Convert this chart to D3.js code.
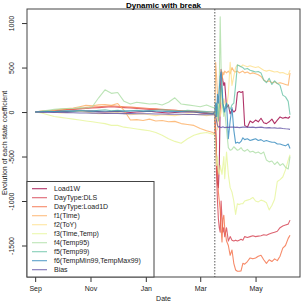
<!DOCTYPE html>
<meta charset="utf-8">
<style>
  body { margin: 0; background: #fff; }
  svg { font-family: 'Liberation Sans', Arial, sans-serif; }
  .tick text { font-size: 7px; fill: #222; }
</style>
<script src="https://d3js.org/d3.v7.min.js"></script>
<div id="chart"></div>
<script>
// sample dates (weekly before the break, denser after)
const dates = [
  "2019-09-01","2019-09-08","2019-09-15","2019-09-22","2019-09-29","2019-10-06","2019-10-13","2019-10-20","2019-10-27",
  "2019-11-03","2019-11-10","2019-11-17","2019-11-24","2019-12-01","2019-12-08","2019-12-15","2019-12-22","2019-12-29",
  "2020-01-05","2020-01-12","2020-01-19","2020-01-26","2020-02-02","2020-02-09","2020-02-16","2020-02-23","2020-03-01",
  "2020-03-08","2020-03-15",
  "2020-03-17","2020-03-18","2020-03-19","2020-03-20","2020-03-21","2020-03-22","2020-03-23","2020-03-24","2020-03-25",
  "2020-03-26","2020-03-27","2020-03-28","2020-03-30","2020-04-01","2020-04-03","2020-04-05","2020-04-07","2020-04-09",
  "2020-04-11","2020-04-13","2020-04-15","2020-04-17","2020-04-19","2020-04-22","2020-04-25","2020-04-28","2020-05-01",
  "2020-05-04","2020-05-07","2020-05-10","2020-05-13","2020-05-16","2020-05-19","2020-05-22","2020-05-25","2020-05-28",
  "2020-05-31","2020-06-03","2020-06-06","2020-06-08"
];
const breakDate = "2020-03-17";

const names = ["Load1W","DayType:DLS","DayType:Load1D","f1(Time)","f2(ToY)","f3(Time,Temp)",
  "f4(Temp95)","f5(Temp99)","f6(TempMin99,TempMax99)","Bias"];
const colors = ["#9E0142","#D53E4F","#F46D43","#FDAE61","#FEE08B","#E6F598","#ABDDA4","#66C2A5","#3288BD","#5E4FA2"];

const load1W = [0,0,5,5,10,5,10,15,10,10,5,0,5,10,0,-5,0,5,10,0,-5,-10,-5,0,5,0,-10,-15,-20,
  0,-200,-500,-800,-850,-600,100,480,420,350,300,330,50,80,-20,30,0,20,220,230,220,230,-150,-170,-100,-120,-90,-110,-70,-120,
  -130,-110,-80,-130,-90,-55,-70,-60,-70,-50];
const dayTypeDLS = [0,5,10,15,20,25,30,35,40,45,50,55,60,55,50,45,40,35,30,30,25,20,20,15,10,10,5,0,0,
  0,-300,-700,-1000,-1200,-1300,-1350,-1000,-1200,-1350,-1300,-1400,-1300,-1450,-1400,-1440,-1450,-1440,-1450,-1440,
  -1430,-1440,-1400,-1410,-1400,-1390,-1400,-1395,-1390,-1380,-1385,-1370,-1360,-1350,-1340,-1300,-1280,-1270,-1260,-1215];
const dayTypeLoad1D = [0,10,15,20,25,30,35,40,50,55,60,65,70,65,60,55,50,45,40,35,30,25,20,15,10,5,0,-10,-20,
  -20,-200,-500,-700,-900,-1000,-1100,-1300,-1460,-1200,-1160,-1300,-1450,-1500,-1610,-1550,-1700,-1775,-1790,-1790,
  -1785,-1700,-1710,-1680,-1640,-1650,-1640,-1620,-1610,-1660,-1700,-1660,-1680,-1650,-1670,-1620,-1530,-1500,-1420,-1385];
const f1 = [0,5,15,20,30,40,45,60,75,70,80,85,75,95,20,-90,-85,-95,-80,-100,-95,-110,-105,-130,-140,-150,-185,-210,-230,
  -250,560,400,200,-100,50,100,200,350,450,420,460,440,460,430,500,460,450,460,440,
  450,460,440,450,430,440,430,420,400,360,340,350,330,340,320,330,320,310,300,440];
const f2 = [0,5,10,0,-10,-5,5,10,0,-10,-20,-15,-10,-5,-20,-30,-25,-20,-30,-40,-30,-35,-40,-30,-20,-25,-30,-40,-30,
  -30,-100,50,-200,0,100,-50,0,100,50,150,100,50,200,560,300,400,500,530,520,
  510,530,520,510,520,510,500,510,490,470,460,470,460,450,455,440,445,430,420,470];
const f3 = [0,-10,-30,-50,-60,-70,-80,-90,-100,-110,-120,-130,-150,-150,-170,-180,-190,-200,-210,-230,-260,-300,-330,-350,-300,-260,-240,-230,-250,
  -250,-400,-600,-500,-650,-700,-600,-650,-700,-600,-500,-750,-450,-700,-850,-900,-1000,-1150,-1030,-1040,
  -1030,-1030,-1000,-990,-980,-960,-1000,-1010,-990,-1000,-1020,-1100,-1050,-980,-780,-760,-730,-650,-540,-480];
const f4 = [0,10,20,30,35,40,40,50,45,60,160,250,210,220,120,90,110,100,90,95,80,110,160,90,80,70,60,80,50,
  50,30,0,-50,100,300,1070,500,100,50,-50,20,-200,-400,-430,-420,-390,-410,-430,-420,
  -400,-430,-440,-420,-450,-440,-460,-450,-470,-450,-540,-560,-550,-590,-560,-600,-580,-620,-640,-500];
const f5 = [0,5,10,5,10,15,10,20,15,10,20,25,15,20,10,15,20,10,15,20,25,20,15,10,20,15,10,5,0,
  0,-50,100,50,-100,50,150,300,250,80,0,50,100,60,30,80,100,300,530,520,
  510,500,480,490,470,460,450,455,440,360,330,380,310,350,320,300,190,170,120,-30];
const f6 = [0,3,5,5,8,10,10,12,12,10,10,8,8,10,10,12,12,10,10,8,8,5,5,5,3,0,-5,-10,-20,
  0,100,-50,200,100,250,400,450,300,100,50,0,100,-300,-100,50,-200,-350,-340,-350,
  -330,-290,-310,-300,-320,-310,-300,-320,-310,-330,-320,-330,-340,-340,-360,-360,-370,-380,-360,-410];
const bias = [0,-2,-3,-5,-5,-7,-8,-10,-10,-12,-12,-15,-15,-15,-18,-18,-20,-20,-20,-22,-22,-25,-25,-25,-28,-28,-30,-30,-30,
  -30,-50,-100,-150,-170,-160,-170,-175,-170,-165,-170,-175,-170,-172,-170,-168,-170,-172,-170,-175,
  -172,-170,-168,-170,-172,-170,-175,-172,-170,-175,-178,-175,-180,-178,-182,-180,-185,-188,-190,-195];

const series = [load1W, dayTypeDLS, dayTypeLoad1D, f1, f2, f3, f4, f5, f6, bias];

const xTicks = ["2019-09-01","2019-11-01","2020-01-01","2020-03-01","2020-05-01"];
const yTicks = [-1500, -1000, -500, 0, 500, 1000];

// plot box
const W = 305, H = 305;
const margin = {top: 9, right: 5, bottom: 28, left: 27};
const parse = d3.timeParse("%Y-%m-%d");

const svg = d3.select("#chart").append("svg")
  .attr("width", W).attr("height", H);

const x = d3.scaleTime()
  .domain([parse("2019-08-23"), parse("2020-06-19")])
  .range([margin.left, W - margin.right]);
const y = d3.scaleLinear()
  .domain([-1854, 1158])
  .range([H - margin.bottom, margin.top]);

// lines
const line = d3.line()
  .x((d, i) => x(parse(dates[i])))
  .y(d => y(d));

svg.append("g").selectAll("path")
  .data(series)
  .join("path")
    .attr("fill", "none")
    .attr("stroke", (d, i) => colors[i])
    .attr("stroke-opacity", 0.8)
    .attr("stroke-width", 1.1)
    .attr("stroke-linejoin", "round")
    .attr("d", line);

// break line
svg.append("line")
  .attr("x1", x(parse(breakDate))).attr("x2", x(parse(breakDate)))
  .attr("y1", margin.top).attr("y2", H - margin.bottom)
  .attr("stroke", "#888").attr("stroke-width", 1.4)
  .attr("stroke-dasharray", "1.4,1.6");

// axes
const xAxis = svg.append("g")
  .attr("transform", `translate(0,${H - margin.bottom})`)
  .call(d3.axisBottom(x).tickValues(xTicks.map(parse)).tickFormat(d3.timeFormat("%b")).tickSize(5).tickPadding(4));
xAxis.select(".domain").remove();
xAxis.selectAll(".tick line").attr("stroke", "#333");

const yAxis = svg.append("g")
  .attr("transform", `translate(${margin.left},0)`)
  .call(d3.axisLeft(y).tickValues(yTicks).tickFormat(d => String(d)).tickSize(5).tickPadding(0));
yAxis.select(".domain").remove();
yAxis.selectAll(".tick line").attr("stroke", "#333");
yAxis.selectAll(".tick text")
  .attr("x", -13).attr("y", 0).attr("dy", 0)
  .attr("text-anchor", "middle")
  .attr("transform", "rotate(-90,-13,0)");

// box
svg.append("rect")
  .attr("x", margin.left).attr("y", margin.top)
  .attr("width", W - margin.left - margin.right)
  .attr("height", H - margin.top - margin.bottom)
  .attr("fill", "none").attr("stroke", "#444").attr("stroke-width", 1);

// legend
const lg = svg.append("g");
lg.append("rect")
  .attr("x", margin.left).attr("y", 181.5)
  .attr("width", 127).attr("height", H - margin.bottom - 181.5)
  .attr("fill", "#fff").attr("stroke", "#444").attr("stroke-width", 1);
names.forEach((n, i) => {
  const yy = 188.7 + i * 9;
  lg.append("line")
    .attr("x1", 32).attr("x2", 47).attr("y1", yy).attr("y2", yy)
    .attr("stroke", colors[i]).attr("stroke-opacity", 0.8).attr("stroke-width", 1.1);
  lg.append("text")
    .attr("x", 54).attr("y", yy).attr("dy", "0.35em")
    .style("font-size", "7px").attr("fill", "#222")
    .text(n);
});

// titles
svg.append("text")
  .attr("x", (margin.left + W - margin.right) / 2).attr("y", 7.5)
  .attr("text-anchor", "middle")
  .style("font-size", "8px").style("font-weight", "bold")
  .text("Dynamic with break");
svg.append("text")
  .attr("x", (margin.left + W - margin.right) / 2).attr("y", 301)
  .attr("text-anchor", "middle")
  .style("font-size", "7px").attr("fill", "#222")
  .text("Date");
svg.append("text")
  .attr("transform", `translate(7,${(margin.top + H - margin.bottom) / 2}) rotate(-90)`)
  .attr("text-anchor", "middle")
  .style("font-size", "7px").attr("fill", "#222")
  .text("Evolution of each state coefficient");
</script>
